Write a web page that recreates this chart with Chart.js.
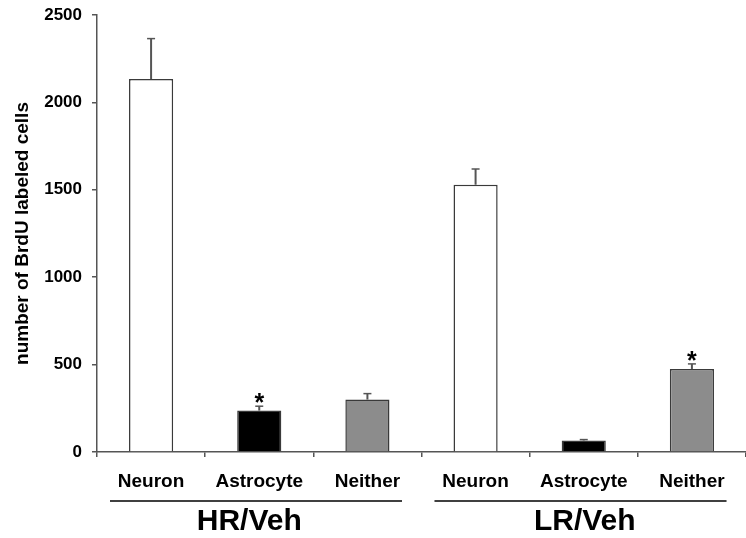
<!DOCTYPE html>
<html>
<head>
<meta charset="utf-8">
<script src="https://cdn.jsdelivr.net/npm/chart.js@4/dist/chart.umd.min.js"></script>
<style>
  html, body { margin: 0; padding: 0; background: #fff; }
  #wrap { width: 746px; height: 538px; }
</style>
</head>
<body>
<div id="wrap"><canvas id="c" width="746" height="538"></canvas></div>
<script>
// Cell types per bar, and which rat group each bar belongs to
const categories = ['Neuron', 'Astrocyte', 'Neither', 'Neuron', 'Astrocyte', 'Neither'];
const groups = ['HR/Veh', 'LR/Veh'];
const groupOf = [0, 0, 0, 1, 1, 1];
// Mean BrdU-labeled cell counts and their standard errors
const means = [2134, 237, 300, 1529, 66, 475];
const sems = [231, 25, 34, 90, 5, 29];
// Bars marked with an asterisk
const significant = [false, true, false, false, false, true];
// Y axis tick values
const yTicks = [0, 500, 1000, 1500, 2000, 2500];

const fillByType = { Neuron: '#ffffff', Astrocyte: '#000000', Neither: '#8c8c8c' };
const FONT = '"Liberation Sans", Arial, Helvetica, sans-serif';
const AXIS = '#555555';

// Upward error bars plus significance stars
const errorBars = {
  id: 'errorBars',
  afterDatasetsDraw(chart) {
    const ctx = chart.ctx;
    const y = chart.scales.y;
    const meta = chart.getDatasetMeta(0);
    ctx.save();
    meta.data.forEach((bar, i) => {
      const top = y.getPixelForValue(means[i] + sems[i]);
      ctx.strokeStyle = '#555555';
      ctx.lineWidth = 2;
      ctx.beginPath();
      ctx.moveTo(bar.x, bar.y);
      ctx.lineTo(bar.x, top);
      ctx.stroke();
      ctx.lineWidth = 1.5;
      ctx.beginPath();
      ctx.moveTo(bar.x - 4, top);
      ctx.lineTo(bar.x + 4, top);
      ctx.stroke();
      if (significant[i]) {
        ctx.fillStyle = '#000';
        ctx.font = 'bold 25px ' + FONT;
        ctx.textAlign = 'center';
        ctx.textBaseline = 'alphabetic';
        ctx.fillText('*', bar.x, top + 5);
      }
    });
    ctx.restore();
  }
};

// Group underlines and group names beneath the category labels
const groupLabels = {
  id: 'groupLabels',
  afterDraw(chart) {
    const ctx = chart.ctx;
    const x = chart.scales.x;
    const w = x.getPixelForValue(1) - x.getPixelForValue(0);
    ctx.save();
    groups.forEach((name, g) => {
      const idx = groupOf.map((v, i) => v === g ? i : -1).filter(i => i >= 0);
      const first = x.getPixelForValue(idx[0]);
      const mid = x.getPixelForValue(idx[1]);
      const last = x.getPixelForValue(idx[idx.length - 1]);
      const x0 = first - 0.38 * w;
      const x1 = last + 0.32 * w;
      ctx.strokeStyle = '#000';
      ctx.lineWidth = 1.5;
      ctx.beginPath();
      ctx.moveTo(x0, 501);
      ctx.lineTo(x1, 501);
      ctx.stroke();
      ctx.fillStyle = '#000';
      ctx.font = 'bold 30px ' + FONT;
      ctx.textAlign = 'center';
      ctx.textBaseline = 'middle';
      ctx.fillText(name, g === 0 ? mid - 10 : mid + 1, 522);
    });
    ctx.restore();
  }
};

new Chart(document.getElementById('c'), {
  type: 'bar',
  data: {
    labels: categories,
    datasets: [{
      data: means,
      backgroundColor: categories.map(c => fillByType[c]),
      borderColor: '#3a3a3a',
      borderWidth: 1.5,
      borderSkipped: 'bottom',
      barPercentage: 0.51,
      categoryPercentage: 0.8
    }]
  },
  options: {
    responsive: false,
    animation: false,
    devicePixelRatio: 1,
    layout: { padding: { top: 15, right: 0, left: 0, bottom: 0 } },
    plugins: { legend: { display: false }, tooltip: { enabled: false } },
    scales: {
      x: {
        grid: { offset: true, drawOnChartArea: false, drawTicks: true, tickLength: 5, color: AXIS, lineWidth: 1.5 },
        border: { color: AXIS, width: 1.5 },
        ticks: { color: '#000', font: { family: FONT, size: 19, weight: 'bold' }, padding: 13, maxRotation: 0 },
        afterFit(s) { s.height = 86; s.paddingLeft = 0; s.paddingRight = 0; }
      },
      y: {
        min: 0,
        max: 2500,
        afterBuildTicks(s) { s.ticks = yTicks.map(v => ({ value: v })); },
        grid: { drawOnChartArea: false, drawTicks: true, tickLength: 5, color: AXIS, lineWidth: 1.5 },
        border: { color: AXIS, width: 1.5 },
        ticks: {
          color: '#000',
          font: { family: FONT, size: 17, weight: 'bold' },
          padding: 10,
          callback: v => String(v)
        },
        title: {
          display: true,
          text: 'number of BrdU labeled cells',
          color: '#000',
          font: { family: FONT, size: 19, weight: 'bold' },
          padding: { top: 11, bottom: 0 }
        },
        afterFit(s) { s.width = 97; s.paddingTop = 0; s.paddingBottom = 0; }
      }
    }
  },
  plugins: [errorBars, groupLabels]
});
</script>
</body>
</html>
